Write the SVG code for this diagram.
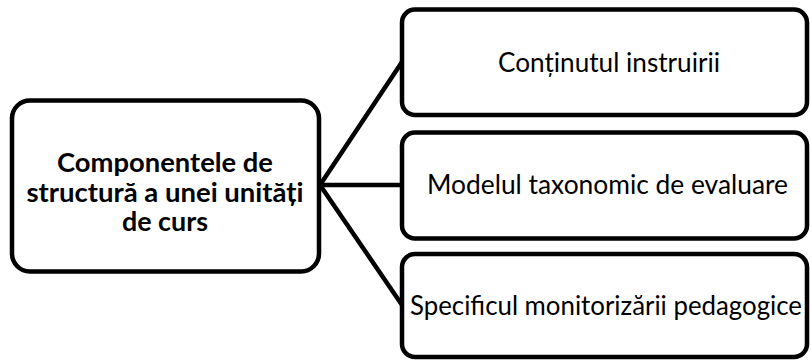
<svg xmlns="http://www.w3.org/2000/svg" width="811" height="360" viewBox="0 0 811 360">
  <style>
    .box { fill: #ffffff; stroke: #000000; stroke-width: 4.5; }
    .link { fill: none; stroke: #000000; stroke-width: 4.5; stroke-linecap: butt; }
    .label { font-family: Lato, "Liberation Sans", sans-serif; font-size: 26px; fill: #000000; text-anchor: middle; }
    .title { font-family: Lato, "Liberation Sans", sans-serif; font-size: 26px; font-weight: bold; fill: #000000; text-anchor: middle; }
  </style>
  <rect width="811" height="360" fill="#ffffff"/>

  <!-- connectors from the root to each component -->
  <g id="connectors">
    <line class="link" x1="320" y1="185" x2="402" y2="62"/>
    <line class="link" x1="320" y1="185" x2="402" y2="185"/>
    <line class="link" x1="320" y1="185" x2="402" y2="305"/>
  </g>

  <g id="root">
    <rect class="box" x="12" y="100.5" width="307" height="171" rx="18"/>
    <text class="title" x="165" y="172" textLength="216" lengthAdjust="spacingAndGlyphs">Componentele de</text>
    <text class="title" x="165" y="201.5" textLength="277" lengthAdjust="spacingAndGlyphs">structură a unei unități</text>
    <text class="title" x="165" y="231" textLength="86" lengthAdjust="spacingAndGlyphs">de curs</text>
  </g>

  <g id="continut">
    <rect class="box" x="402" y="9.5" width="405" height="105.5" rx="13"/>
    <text class="label" x="609" y="72" textLength="222" lengthAdjust="spacingAndGlyphs">Conținutul instruirii</text>
  </g>

  <g id="model">
    <rect class="box" x="402" y="132.5" width="405" height="106" rx="13"/>
    <text class="label" x="607.5" y="194" textLength="361" lengthAdjust="spacingAndGlyphs">Modelul taxonomic de evaluare</text>
  </g>

  <g id="monitorizare">
    <rect class="box" x="402" y="254" width="405" height="103" rx="13"/>
    <text class="label" x="606" y="315" textLength="392" lengthAdjust="spacingAndGlyphs">Specificul monitorizării pedagogice</text>
  </g>
</svg>
